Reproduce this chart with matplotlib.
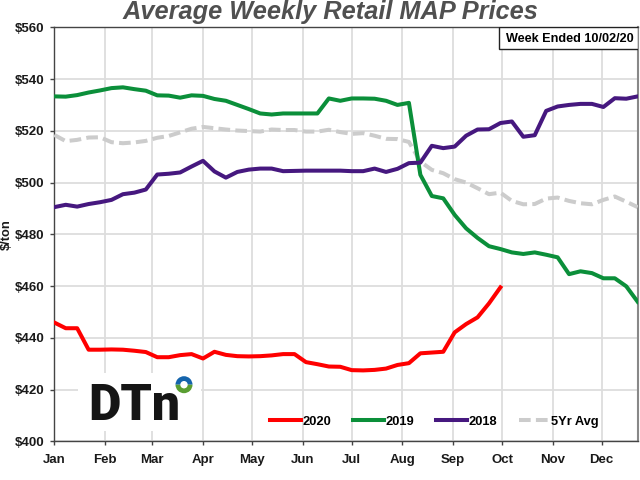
import matplotlib
matplotlib.use('Agg')
import matplotlib.pyplot as plt
from matplotlib.patches import Rectangle, Wedge, Circle

plt.rcParams['font.family'] = ['Liberation Sans', 'DejaVu Sans']

W, H = 640, 480

# weekly prices, $/ton
prices_2020 = [445.9, 443.7, 443.7, 435.4, 435.4, 435.5, 435.4, 435.0, 434.5, 432.5,
               432.5, 433.3, 433.7, 432.0, 434.6, 433.4, 432.9, 432.8, 432.9, 433.2,
               433.7, 433.7, 430.6, 429.8, 428.9, 428.8, 427.5, 427.4, 427.6, 428.1,
               429.5, 430.2, 434.0, 434.3, 434.6, 442.1, 445.3, 447.9, 453.3, 459.5]
prices_2019 = [533.3, 533.2, 533.8, 534.8, 535.6, 536.5, 536.8, 536.1, 535.5, 533.7,
               533.6, 532.8, 533.7, 533.5, 532.3, 531.6, 530.0, 528.4, 526.7, 526.3,
               526.7, 526.7, 526.7, 526.7, 532.5, 531.6, 532.5, 532.5, 532.4, 531.6,
               530.0, 530.8, 503.0, 494.8, 493.9, 487.5, 482.3, 478.6, 475.4, 474.3,
               473.0, 472.4, 473.0, 472.1, 471.1, 464.6, 465.7, 465.0, 463.0, 463.0,
               459.9, 453.9]
prices_2018 = [490.5, 491.4, 490.7, 491.7, 492.4, 493.3, 495.5, 496.1, 497.3, 503.1,
               503.4, 503.9, 506.2, 508.4, 504.3, 501.9, 504.1, 505.0, 505.4, 505.4,
               504.4, 504.5, 504.6, 504.6, 504.6, 504.6, 504.4, 504.4, 505.4, 504.1,
               505.3, 507.5, 507.7, 514.2, 513.3, 513.9, 518.1, 520.5, 520.6, 523.0,
               523.6, 517.7, 518.3, 527.7, 529.4, 530.0, 530.4, 530.4, 529.2, 532.6,
               532.4, 533.3]
prices_5yr = [518.4, 516.0, 516.5, 517.4, 517.5, 515.6, 515.2, 515.5, 516.1, 517.3,
              518.0, 519.4, 520.8, 521.5, 521.0, 520.5, 520.1, 519.9, 519.7, 520.5,
              520.3, 520.3, 519.7, 519.7, 520.4, 519.5, 518.8, 519.1, 518.1, 516.9,
              516.8, 515.7, 508.1, 504.9, 503.6, 501.3, 500.0, 497.8, 495.5, 496.1,
              492.9, 491.6, 491.7, 493.8, 494.2, 492.9, 492.0, 491.6, 493.3, 494.6,
              492.6, 490.5]

month_names = ['Jan', 'Feb', 'Mar', 'Apr', 'May', 'Jun', 'Jul', 'Aug', 'Sep', 'Oct', 'Nov', 'Dec']
month_days = [0, 31, 60, 91, 121, 152, 182, 213, 244, 274, 305, 335]
price_ticks = [400, 420, 440, 460, 480, 500, 520, 540, 560]

def week_days(values):
    return [i * 7 for i in range(len(values))]

fig = plt.figure(figsize=(W / 100, H / 100), dpi=100)
ax = fig.add_axes([54.3 / W, (H - 441.3) / H, 583.4 / W, 414 / H])

ax.plot(week_days(prices_5yr), prices_5yr, color='#cccccc', lw=2.9, dashes=(2.9, 1.3), label='5Yr Avg', zorder=3)
ax.plot(week_days(prices_2019), prices_2019, color='#0b8f3a', lw=2.9, label='2019', zorder=4)
ax.plot(week_days(prices_2018), prices_2018, color='#46187f', lw=2.9, label='2018', zorder=5)
ax.plot(week_days(prices_2020), prices_2020, color='#ff0000', lw=2.9, label='2020', zorder=6)

ax.set_xlim(0, 357)
ax.set_ylim(400, 560)
ax.set_xticks(month_days)
ax.set_xticklabels(month_names)
ax.set_yticks(price_ticks)
ax.set_yticklabels(['$%d' % p for p in price_ticks])
ax.grid(True, color='#dddddd', lw=1.3)
ax.set_axisbelow(True)
ax.tick_params(length=3, width=1, color='#444444', pad=4, labelcolor='#1a1a1a')
ax.tick_params(axis='x', pad=6)
for lab in ax.get_xticklabels() + ax.get_yticklabels():
    lab.set_fontsize(9.5)
    lab.set_fontweight('bold')
for side in ['left', 'bottom', 'top']:
    ax.spines[side].set_color('#444444')
    ax.spines[side].set_linewidth(1)
ax.spines['right'].set_color('#888888')
ax.spines['right'].set_linewidth(1.5)

fig.text(7 / W, 1 - 235 / H, '$/ton', rotation=90, fontsize=9.3, fontweight='bold',
         ha='center', va='center', color='#1a1a1a')
fig.text(330 / W, 1 - 18.5 / H, 'Average Weekly Retail MAP Prices', fontsize=18.3,
         fontweight='bold', fontstyle='italic', color='#505050', ha='center', va='baseline')

# date box, top right
ax.add_patch(Rectangle((498.7 / W, 1 - 49 / H), 139 / W, 21.5 / H, transform=fig.transFigure,
                       fc='white', ec='#222222', lw=1, zorder=7))
fig.text(570 / W, 1 - 39 / H, 'Week Ended 10/02/20', fontsize=9.05, fontweight='bold',
         color='black', ha='center', va='center', zorder=8)

# logo sits on a white patch that cuts the grid
ax.add_patch(Rectangle((78 / W, 1 - 431 / H), 123 / W, 58 / H, transform=fig.transFigure,
                       fc='white', ec='none', zorder=2))
fig.text(88 / W, 1 - 420 / H, 'DTn', fontsize=36, fontweight='black', family='Roboto',
         color='#151515', ha='left', va='baseline', zorder=8)
ring_x, ring_y = 184 / 100, (H - 384.7) / 100
for t1, t2, col in [(0, 180, '#1464ac'), (180, 360, '#5a9e32')]:
    fig.add_artist(Wedge((ring_x, ring_y), 0.085, t1, t2, fc=col, ec='none',
                         transform=fig.dpi_scale_trans))
fig.add_artist(Circle((ring_x, ring_y), 0.037, fc='white', ec='none', transform=fig.dpi_scale_trans))

handles, labels = ax.get_legend_handles_labels()
order = [3, 1, 2, 0]
leg = ax.legend([handles[i] for i in order], [labels[i] for i in order], ncol=4, frameon=False,
                loc='center left', bbox_to_anchor=(270 / W, 1 - 421.5 / H), bbox_transform=fig.transFigure,
                prop={'weight': 'bold', 'size': 9.3}, borderpad=0, borderaxespad=0,
                handlelength=1.7 * 1.39, handletextpad=0.12, columnspacing=1.73)
leg.set_zorder(8)

plt.savefig('out.png', dpi=100)
plt.close()
